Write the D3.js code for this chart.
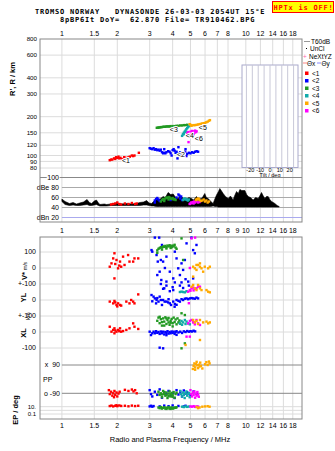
<!DOCTYPE html>
<html>
<head>
<meta charset="utf-8">
<style>
body { margin: 0; background: #fff; }
svg { display: block; font-family: "Liberation Sans", Arial, sans-serif; }
.mono { font-family: "DejaVu Sans Mono", monospace; font-weight: bold; letter-spacing: 0.79px; }
</style>
</head>
<body>
<svg id="chart" width="335" height="451"></svg>
<script src="https://d3js.org/d3.v7.min.js"></script>
<script>
// echo classes
var classNames = ["<1", "<2", "<3", "<4", "<5", "<6"];
var classColors = ["#ff0000", "#0000ff", "#229922", "#11aaaa", "#ffaa00", "#ff00ff"];

// axis ticks
var freqTicks = [1, 1.5, 2, 3, 4, 5, 6, 7, 8, 10, 12, 14, 16, 18];
var freqTicksMid = [1, 1.5, 2, 3, 4, 5, 6, 7, 8, 9, 10, 12, 14, 16, 18];
var rangeTicks = [800, 600, 400, 300, 200, 150, 120, 100, 90, 80];
var dbTicks = [100, 80, 60, 40, 20];
var dbLabels = ["100", "dBe 80", "60", "40", "dBn 20"];
var tiltTicks = [-20, -10, 0, 10, 20];
var tiltGrid = [-24, -18, -12, -6, 0, 6, 12, 18, 24];
var velTicks = [100, 0, -100], velLabels = ["100", "0", "+-100"];
var ylTicks = [0, -100], ylLabels = ["0", "+-100"];
var xlTicks = [0, -100], xlLabels = ["0", "-100"];
var ppTicks = [90, -90], ppLabels = ["x  90", "o -90"];
var epTicks = [10, 0.1], epLabels = ["10.", "0.1"];

// noise / echo amplitude trace (dB)
var noiseFreq = [1.0,1.04,1.1,1.15,1.2,1.25,1.31,1.37,1.41,1.45,
  1.5,1.54,1.58,1.61,1.7,1.75,1.85,1.98,2.1,2.25,
  2.4,2.55,2.65,2.78,2.89,2.98,3.07,3.15,3.27,3.4,
  3.55,3.65,3.78,3.9,4.03,4.15,4.29,4.38,4.47,4.6,
  4.76,4.9,5.07,5.2,5.39,5.55,5.74,5.85,5.98,6.1,
  6.24,6.45,6.64,6.8,6.93,7.1,7.22,7.35,7.53,7.75,
  8.02,8.25,8.53,8.7,8.9,9.1,9.28,9.5,9.88,10.1,
  10.3,10.6,10.96,11.3,11.67,11.9,12.17,12.4,12.69,12.95,
  13.22,13.5,13.8,14.1,14.38,14.8,15.17];
var noiseHi = [57,52,48,50,47,49,51,56,50,48,
  53,55,49,46,47,46,47,49,47,48,
  47,48,50,51,54,49,48,52,58,56,
  62,60,70,66,67,60,58,63,62,57,
  56,60,58,55,62,57,58,62,68,60,
  58,52,48,58,65,72,78,74,68,62,
  58,63,55,64,72,68,76,74,74,66,
  62,60,55,60,58,63,70,64,58,62,
  62,56,52,50,48,44,42];
var noiseLo = [52,46,44,45,44,44,45,46,44,44,
  45,46,44,43,43,43,44,44,44,44,
  44,44,44,45,45,44,43,43,42,42,
  42,42,42,42,42,42,42,42,42,42,
  42,42,42,42,42,42,42,42,42,42,
  42,42,43,42,42,41,41,41,41,41,
  41,41,41,41,41,41,41,41,41,41,
  41,41,41,41,41,41,41,41,41,41,
  41,41,41,41,41,41,41];

// [class, MHz, virtual range km]
var rangePts = [
  [0,1.82,92],[0,1.85,93],[0,1.88,93],[0,1.92,95],[0,1.95,94],[0,1.97,97],[0,2.0,96],[0,2.03,98],[0,2.05,95],
  [0,2.08,96],[0,2.12,94],[0,2.18,97],[0,2.22,96],[0,2.3,97],[0,2.34,98],[0,2.4,100],[0,2.44,99],[0,2.48,100],[0,2.62,105],
  [1,3.0,114],[1,3.05,113],[1,3.1,112],[1,3.15,114],[1,3.2,111],[1,3.25,112],[1,3.3,110],[1,3.35,111],[1,3.4,109],
  [1,3.45,111],[1,3.5,106],[1,3.55,104],[1,3.6,105],[1,3.65,104],[1,3.7,106],[1,3.78,108],[1,3.85,107],[1,3.9,104],
  [1,3.95,100],[1,4.0,110],[1,4.05,112],[1,4.1,109],[1,4.15,105],[1,4.2,107],[1,4.25,103],[1,4.3,116],[1,4.35,103],
  [1,4.4,106],[1,4.45,101],[1,4.5,104],[1,4.55,102],[1,4.6,103],[1,4.68,107],[1,4.75,99],[1,4.8,103],[1,4.9,105],
  [1,5.0,104],[1,5.1,106],[1,5.2,105],[1,5.3,107],[1,5.4,108],[1,5.5,107],[1,4.25,95],[1,3.6,112],[1,4.7,112],
  [2,3.28,164],[2,3.32,164],[2,3.36,165],[2,3.4,165],[2,3.45,166],[2,3.5,166],[2,3.55,167],[2,3.6,167],[2,3.65,167],
  [2,3.7,168],[2,3.75,168],[2,3.8,168],[2,3.85,168],[2,3.9,169],[2,4.0,169],[2,4.1,169],[2,4.2,170],[2,4.3,170],
  [2,4.4,171],[2,4.5,171],[2,4.6,172],[2,4.7,172],[2,4.8,173],
  [3,4.5,142],[3,4.55,146],[3,4.6,150],[3,4.65,153],[3,4.7,156],[3,4.75,160],[3,4.8,163],[3,4.85,166],[3,4.9,169],
  [3,4.95,172],[3,4.6,146],[3,4.7,152],
  [4,5.05,170],[4,5.1,171],[4,5.2,172],[4,5.3,172],[4,5.4,173],[4,5.5,174],[4,5.6,175],[4,5.7,176],[4,5.8,177],
  [4,5.9,178],[4,6.0,179],[4,6.1,181],[4,6.2,183],[4,6.3,186],[4,6.38,188],[4,5.0,173],[4,4.95,175],
  [5,4.8,148],[5,4.85,152],[5,4.9,150],[5,4.95,146],[5,5.0,153],[5,5.05,149],[5,5.1,155],[5,5.15,151],[5,5.2,154],
  [5,5.25,150],[5,5.3,156],[5,5.35,152],[5,5.4,154],[5,4.88,127],[5,5.0,144],[5,5.2,145]
];

// class label anchors (MHz, km)
var labelF = [2.12, 4.22, 3.86, 4.72, 5.55, 5.28];
var labelR = [90.6, 101, 159, 144, 165, 135];

// [class, MHz, dB]
var ampPts = [
  [0,1.85,46],[0,1.9,47],[0,1.95,48],[0,2.0,50],[0,2.05,47],[0,2.1,46],[0,2.2,48],[0,2.3,47],[0,2.4,49],[0,2.5,47],[0,2.55,48],
  [1,3.2,54],[1,3.25,57],[1,3.3,59],[1,3.35,56],[1,3.4,53],[1,4.3,66],[1,4.35,64],[1,4.4,58],[1,4.45,62],[1,4.5,55],[1,3.9,55],[1,4.2,60],[1,3.2,50],
  [2,3.45,52],[2,3.5,55],[2,3.55,57],[2,3.6,56],[2,3.65,58],[2,3.7,60],[2,3.75,59],[2,3.8,61],[2,3.85,60],[2,3.9,58],
  [2,3.95,57],[2,4.0,59],[2,4.05,56],[2,4.1,57],[2,4.15,55],[2,3.6,53],[2,3.8,56],
  [3,4.55,55],[3,4.6,57],[3,4.65,58],[3,4.7,56],[3,4.75,57],[3,4.8,55],[3,4.85,54],[3,4.9,56],
  [5,4.95,47],[5,5.0,48],[5,5.05,50],[5,5.1,49],[5,5.15,51],[5,5.2,48],[5,5.3,50],[5,5.4,52],[5,5.5,50],[5,5.6,51],[5,5.25,52],
  [4,5.35,55],[4,5.4,57],[4,5.45,56],[4,5.5,58],[4,5.55,57],[4,5.6,55],[4,5.7,53],[4,5.8,54],[4,6.0,52],[4,6.1,54],
  [4,6.2,50],[4,6.3,52],[4,5.9,56]
];

// [class, MHz, V* m/s]
var velPts = [
  [0,1.82,8],[0,1.86,29],[0,1.9,60],[0,1.93,92],[0,1.93,-65],[0,1.98,50],[0,2.02,-2],[0,2.07,40],[0,2.1,8],[0,2.15,71],
  [0,2.19,19],[0,2.29,81],[0,2.33,40],[0,2.44,40],[0,2.48,60],[0,2.6,60],[0,1.95,25],[0,2.05,15],
  [1,3.07,112],[1,3.1,102],[1,3.27,81],[1,3.32,40],[1,3.45,50],[1,3.5,144],[1,3.2,190],[1,3.38,190],[1,3.7,-85],
  [1,3.55,40],[1,3.7,71],[1,3.94,133],[1,4.11,102],[1,4.29,-2],[1,4.47,29],[1,4.66,50],[1,4.76,154],[1,5.06,190],
  [1,5.17,112],[1,5.28,92],[1,5.39,144],[1,4.38,-44],[1,4.03,-65],[1,4.86,-85],[1,3.86,-23],[1,3.63,0],[1,3.47,-75],
  [1,4.56,-12],[1,5.17,-65],[1,4.2,60],[1,3.6,-127],[1,3.4,-23],[1,3.3,-44],[1,4.9,-110],[1,4.0,-120],
  [2,3.3,110],[2,3.35,120],[2,3.4,125],[2,3.45,130],[2,3.5,128],[2,3.55,135],[2,3.6,132],[2,3.65,138],[2,3.7,130],
  [2,3.75,140],[2,3.8,135],[2,3.85,142],[2,3.9,138],[2,3.95,130],[2,4.0,140],[2,4.05,135],[2,4.1,145],[2,4.15,128],
  [2,4.2,120],[2,3.5,115],[2,3.7,122],[2,3.9,125],[2,4.47,185],[2,4.56,50],[2,3.3,95],
  [5,5.07,185],[5,5.3,190],[5,4.96,0],
  [4,5.17,8],[4,5.28,-2],[4,5.39,-12],[4,5.5,19],[4,5.63,8],[4,5.74,-2],[4,5.86,-23],[4,5.17,-54],[4,6.24,-2],
  [4,6.37,8],[4,5.63,29],[4,5.39,19],[4,5.98,8]
];

// [class, MHz, YL km]
var ylPts = [
  [0,1.82,-10],[0,1.9,-21],[0,1.93,-6],[0,1.98,-31],[0,2.02,-21],[0,2.07,-31],[0,2.1,-35],[0,2.24,-10],[0,2.33,-21],
  [0,2.38,0],[0,2.44,-10],[0,2.48,-21],[0,2.6,35],[0,1.95,-15],[0,2.0,-40],
  [1,3.07,31],[1,3.15,21],[1,3.2,10],[1,3.27,0],[1,3.35,-10],[1,3.45,0],[1,3.1,-8],[1,3.25,-21],[1,3.5,-31],[1,3.4,21],
  [1,3.55,0],[1,3.62,-10],[1,3.7,-10],[1,3.78,-15],[1,3.86,-21],[1,3.92,-31],[1,4.03,-10],[1,4.11,-25],[1,4.2,0],
  [1,4.3,-5],[1,4.38,-10],[1,4.47,5],[1,4.56,0],[1,4.66,8],[1,4.76,10],[1,4.86,5],[1,4.96,10],[1,5.07,12],[1,5.17,10],
  [1,5.28,8],[1,5.39,15],[1,5.5,10],[1,4.1,-42],[1,3.3,12],[1,3.8,5],[1,4.2,-30],
  [1,3.55,70],[1,3.7,90],[1,3.86,55],[1,4.03,62],[1,4.11,110],[1,4.38,90],[1,4.47,110],[1,4.56,75],[1,3.45,100],[1,4.7,130],
  [3,4.38,50],[3,4.47,52],[3,4.56,50],[3,4.66,48],[3,4.76,55],
  [5,4.86,52],[5,4.96,62],[5,5.07,73],[5,5.17,78],[5,5.28,70],[5,5.39,73],[5,5.5,83],[5,5.63,83],[5,4.9,-20],[5,5.0,58],[5,5.2,60],
  [4,5.07,83],[4,5.17,94],[4,5.28,73],[4,5.39,62],[4,5.5,94],[4,5.63,73],[4,5.74,62],[4,6.11,62],[4,6.24,52],[4,6.37,48]
];

// [class, MHz, XL km]
var xlPts = [
  [0,1.82,33],[0,1.86,2],[0,1.9,13],[0,1.93,23],[0,1.93,-8],[0,1.98,2],[0,2.02,13],[0,2.07,23],[0,2.1,2],[0,2.15,6],
  [0,2.24,13],[0,2.33,23],[0,2.44,54],[0,2.48,33],[0,2.6,19],[0,1.95,10],[0,2.05,5],
  [1,3.0,2],[1,3.05,-19],[1,3.1,-8],[1,3.15,2],[1,3.2,-8],[1,3.25,5],[1,3.3,-5],[1,3.35,0],[1,3.4,-12],[1,3.45,3],
  [1,3.5,-8],[1,3.55,2],[1,3.6,-15],[1,3.65,0],[1,3.7,-5],[1,3.75,5],[1,3.8,-10],[1,3.85,0],[1,3.9,-8],[1,3.95,3],
  [1,4.0,-5],[1,4.05,2],[1,4.1,-12],[1,4.15,0],[1,4.2,5],[1,4.3,-3],[1,4.4,2],[1,4.5,-6],[1,4.6,4],[1,4.7,0],
  [1,4.8,6],[1,4.9,2],[1,5.0,5],[1,5.1,3],[1,5.2,8],[1,5.3,4],[1,3.55,-102],[1,3.4,-98],[1,3.7,-20],[1,4.2,-18],
  [2,3.3,70],[2,3.35,90],[2,3.4,55],[2,3.45,80],[2,3.5,40],[2,3.55,85],[2,3.6,65],[2,3.65,92],[2,3.7,50],[2,3.75,75],
  [2,3.8,88],[2,3.85,45],[2,3.9,70],[2,3.95,82],[2,4.0,55],[2,4.05,90],[2,4.1,62],[2,4.15,78],[2,4.2,48],[2,4.25,85],
  [2,4.3,60],[2,4.35,72],[2,4.4,52],[2,3.4,95],[2,3.6,40],[2,3.8,60],[2,4.0,35],[2,3.5,62],[2,3.7,85],[2,3.9,58],
  [2,4.66,106],[2,4.66,-71],[2,4.47,-102],[2,4.47,117],
  [3,4.38,54],[3,4.47,69],[3,4.56,60],[3,4.66,75],[3,4.76,65],[3,4.86,54],[3,4.96,48],[3,4.5,45],[3,4.7,50],
  [5,4.86,54],[5,4.96,69],[5,5.07,75],[5,5.17,60],[5,5.28,48],[5,5.39,75],[5,5.5,54],[5,5.63,44],[5,4.76,-29],[5,4.96,-29],[5,5.2,62],
  [4,5.17,75],[4,5.28,60],[4,5.39,69],[4,5.63,75],[4,5.86,60],[4,6.11,65],[4,6.24,54],[4,6.37,60],[4,5.63,-50],[4,4.7,-81],[4,5.5,50]
];

// [class, MHz, polarisation deg]
var ppPts = [
  [0,1.8,-70],[0,1.82,-95],[0,1.85,-80],[0,1.88,-105],[0,1.9,-90],[0,1.93,-75],[0,1.95,-100],[0,1.98,-85],[0,2.0,-110],
  [0,2.03,-92],[0,2.06,-80],[0,2.2,-68],[0,2.3,-75],[0,2.4,-66],[0,2.45,-78],[0,2.5,-70],[0,2.55,-90],[0,1.92,-115],
  [1,3.0,-70],[1,3.05,-95],[1,3.1,-110],[1,3.2,-80],[1,3.3,-100],[1,3.4,-65],[1,3.5,-118],[1,3.6,-85],[1,3.7,-95],
  [1,3.8,-75],[1,3.9,-105],[1,4.0,-88],[1,4.1,-120],[1,4.2,-70],[1,4.3,-98],[1,4.4,-80],[1,4.5,-110],[1,4.6,-72],
  [1,4.7,-92],[1,4.8,-84],[1,5.0,-100],[1,5.2,-78],[1,5.4,-95],
  [2,3.35,-80],[2,3.4,-100],[2,3.45,-90],[2,3.5,-115],[2,3.55,-75],[2,3.6,-95],[2,3.65,-105],[2,3.7,-85],[2,3.75,-120],
  [2,3.8,-92],[2,3.85,-78],[2,3.9,-110],[2,3.95,-88],[2,4.0,-100],[2,4.05,-82],[2,4.1,-118],[2,4.15,-95],[2,4.2,-86],
  [2,3.5,-98],[2,3.7,-102],[2,3.9,-96],[2,3.6,-82],[2,4.0,-112],[2,3.8,-108],
  [3,4.4,-75],[3,4.45,-95],[3,4.5,-110],[3,4.55,-85],[3,4.6,-100],[3,4.65,-120],[3,4.7,-90],[3,4.75,-78],[3,4.8,-105],
  [3,4.85,-95],[3,4.9,-88],[3,4.95,-115],
  [5,5.0,-70],[5,5.05,-95],[5,5.1,-110],[5,5.15,-85],[5,5.2,-100],[5,5.25,-78],[5,5.3,-118],[5,5.35,-92],[5,5.4,-105],
  [5,5.45,-82],[5,5.5,-98],[5,5.55,-112],
  [4,5.15,65],[4,5.2,85],[4,5.25,100],[4,5.3,75],[4,5.35,95],[4,5.4,110],[4,5.45,88],[4,5.5,70],[4,5.55,92],[4,5.6,80],
  [4,5.65,105],[4,5.7,85],[4,5.8,68],[4,6.0,95],[4,6.1,108],[4,6.2,90],[4,6.35,100],[4,6.3,112],[4,5.3,60]
];

// [class, MHz, EP deg]
var epPts = [
  [0,1.82,15],[0,1.86,20],[0,1.9,12],[0,1.95,18],[0,2.0,14],[0,2.05,22],[0,2.1,16],[0,2.2,18],[0,2.3,13],[0,2.4,20],
  [0,2.5,15],[0,2.6,18],[0,1.98,25],
  [1,3.0,12],[1,3.05,18],[1,3.1,10],[1,3.15,15],[1,3.4,12],[1,3.6,20],[1,3.8,14],[1,4.0,22],[1,4.3,16],[1,4.6,12],[1,4.7,18],
  [2,3.35,6],[2,3.4,4],[2,3.45,8],[2,3.5,3],[2,3.55,5],[2,3.6,7],[2,3.65,3],[2,3.7,5],[2,3.75,4],[2,3.8,8],[2,3.85,3],
  [2,3.9,5],[2,3.95,6],[2,4.0,3],[2,4.05,4],[2,4.1,6],[2,4.15,5],[2,4.2,7],[2,3.7,2.5],[2,3.9,2.5],
  [3,4.5,10],[3,4.6,8],[3,4.7,12],[3,4.8,9],[3,4.9,11],
  [5,5.0,12],[5,5.1,10],[5,5.2,14],[5,5.3,9],[5,5.4,12],[5,5.5,11],
  [4,5.4,8],[4,5.6,6],[4,5.8,10],[4,6.0,12],[4,6.2,14],[4,6.35,10],[4,5.5,4]
];

var svg = d3.select("#chart");

// scales
var x = d3.scaleLog().domain([0.76, 20.2]).range([40, 302]);
var yR = d3.scaleLog().domain([800, 70]).range([39, 175.5]);
var yDb = d3.scaleLinear().domain([20, 100]).range([217.5, 177.5]);
var yV = d3.scaleLinear().domain([-100, 100]).range([284, 252]);
var yYL = d3.scaleLinear().domain([-100, 100]).range([316, 284]);
var yXL = d3.scaleLinear().domain([-100, 100]).range([348, 316]);
var yPP = d3.scaleLinear().domain([-90, 90]).range([393.3, 365]);
var yEP = d3.scaleLog().domain([0.1, 10]).range([414, 406.7]);
var xTilt = d3.scaleLinear().domain([-28.5, 28.5]).range([242, 298]);

var grid = "#dcdcdc", frame = "#888";

// header
svg.append("text").attr("class", "mono").attr("x", 35).attr("y", 13.5)
  .attr("font-size", 7).attr("xml:space", "preserve")
  .text("TROMSO NORWAY   DYNASONDE 26-03-03 2054UT 15°E");
svg.append("text").attr("class", "mono").attr("x", 60).attr("y", 22)
  .attr("font-size", 7).attr("xml:space", "preserve")
  .text("8pBP6It DoY=  62.870 File= TR910462.BPG");
svg.append("rect").attr("x", 272.5).attr("y", 1.5).attr("width", 61).attr("height", 11)
  .attr("fill", "#ffff00").attr("stroke", "#ff0000");
svg.append("text").attr("class", "mono").attr("x", 273.5).attr("y", 10)
  .attr("font-size", 7).attr("fill", "#ff0000").text("HPTx is OFF!");

// vertical frequency grid, both panels
[[39, 222], [237, 419]].forEach(function(p) {
  svg.append("g").selectAll("line").data(freqTicks).enter().append("line")
    .attr("x1", function(d) { return x(d); }).attr("x2", function(d) { return x(d); })
    .attr("y1", p[0]).attr("y2", p[1]).attr("stroke", grid);
});

// range grid + labels
svg.append("g").selectAll("line").data(rangeTicks.slice(1)).enter().append("line")
  .attr("x1", 40).attr("x2", 302)
  .attr("y1", function(d) { return yR(d); }).attr("y2", function(d) { return yR(d); })
  .attr("stroke", grid);
svg.append("g").selectAll("text").data(rangeTicks).enter().append("text")
  .attr("x", 37).attr("y", function(d) { return yR(d); }).attr("dy", "0.35em")
  .attr("text-anchor", "end").attr("font-size", 6.2).text(function(d) { return d; });
svg.append("text").attr("transform", "translate(15,79) rotate(-90)")
  .attr("text-anchor", "middle").attr("font-size", 7.5).attr("font-weight", "bold").text("R', R / km");

// tilt inset
svg.append("rect").attr("x", xTilt(-28.5)).attr("y", 65).attr("width", xTilt(28.5) - xTilt(-28.5))
  .attr("height", 102.5).attr("fill", "#fff").attr("stroke", "#aaaacc");
svg.append("g").selectAll("line").data(tiltGrid).enter().append("line")
  .attr("x1", function(d) { return xTilt(d); }).attr("x2", function(d) { return xTilt(d); })
  .attr("y1", 65).attr("y2", 167.5).attr("stroke", "#c8c8d8");
svg.append("g").selectAll("text").data(tiltTicks).enter().append("text")
  .attr("x", function(d) { return xTilt(d); }).attr("y", 171.5).attr("text-anchor", "middle")
  .attr("font-size", 5.5).text(function(d) { return d; });
svg.append("text").attr("x", xTilt(0)).attr("y", 177).attr("text-anchor", "middle")
  .attr("font-size", 5.5).text("Tilt / deg");

// dB panel lines
svg.append("g").selectAll("line").data(dbTicks).enter().append("line")
  .attr("x1", function(d) { return d === 100 ? 40 : x(1); }).attr("x2", 302)
  .attr("y1", function(d) { return yDb(d); }).attr("y2", function(d) { return yDb(d); })
  .attr("stroke", function(d) { return d === 100 ? frame : d === 20 ? "#aaaaee" : "#aaa"; });
svg.append("g").selectAll("text").data(dbTicks).enter().append("text")
  .attr("x", 59).attr("y", function(d) { return yDb(d); }).attr("dy", "0.35em")
  .attr("text-anchor", "end").attr("font-size", 7)
  .attr("stroke", "#fff").attr("stroke-width", 2).attr("paint-order", "stroke")
  .text(function(d, i) { return dbLabels[i]; });

// noise trace
var noise = noiseFreq.map(function(f, i) { return [f, noiseLo[i], noiseHi[i]]; });
svg.append("path").datum(noise)
  .attr("d", d3.area().x(function(d) { return x(d[0]); })
    .y0(function(d) { return yDb(d[1]); }).y1(function(d) { return yDb(d[2]); }))
  .attr("fill", "#000").attr("stroke", "#000").attr("stroke-width", 0.6);

// bottom panel grid
var bottomLines = [yV(100), yV(0), yV(-100), yYL(0), yYL(-100), yXL(0), yXL(-100),
  yEP(10), yEP(1), yEP(0.1)];
svg.append("g").selectAll("line").data(bottomLines).enter().append("line")
  .attr("x1", 40).attr("x2", 302).attr("y1", function(d) { return d; }).attr("y2", function(d) { return d; })
  .attr("stroke", grid);
svg.append("g").selectAll("line").data(ppTicks).enter().append("line")
  .attr("x1", x(1)).attr("x2", 302)
  .attr("y1", function(d) { return yPP(d); }).attr("y2", function(d) { return yPP(d); })
  .attr("stroke", frame);

// bottom panel tick labels
function sideLabels(ticks, labels, scale, xpos, size) {
  svg.append("g").selectAll("text").data(ticks).enter().append("text")
    .attr("x", xpos).attr("y", function(d) { return scale(d); }).attr("dy", "0.35em")
    .attr("text-anchor", "end").attr("font-size", size).attr("xml:space", "preserve")
    .text(function(d, i) { return labels[i]; });
}
sideLabels(velTicks, velLabels, yV, 36, 7);
sideLabels(ylTicks, ylLabels, yYL, 36, 7);
sideLabels(xlTicks, xlLabels, yXL, 36, 7);
sideLabels(ppTicks, ppLabels, yPP, 60, 7);
sideLabels(epTicks, epLabels, yEP, 36, 6);
svg.append("text").attr("x", 43).attr("y", 382).attr("font-size", 7).text("PP");

// side titles
svg.append("text").attr("transform", "translate(27,271) rotate(-90)").attr("text-anchor", "middle")
  .attr("font-size", 7.5).attr("font-weight", "bold")
  .html('V* <tspan font-size="5" font-weight="normal">m/s</tspan>');
svg.append("text").attr("transform", "translate(26,297.5) rotate(-90)").attr("text-anchor", "middle")
  .attr("font-size", 7.5).attr("font-weight", "bold").text("YL");
svg.append("text").attr("transform", "translate(30,316) rotate(-90)").attr("text-anchor", "middle")
  .attr("font-size", 5.5).text("km");
svg.append("text").attr("transform", "translate(26,333) rotate(-90)").attr("text-anchor", "middle")
  .attr("font-size", 7.5).attr("font-weight", "bold").text("XL");
svg.append("text").attr("transform", "translate(18,410) rotate(-90)").attr("text-anchor", "middle")
  .attr("font-size", 7.5).attr("font-weight", "bold").text("EP / deg");

// frames
svg.append("rect").attr("x", 40).attr("y", 39).attr("width", 262).attr("height", 183)
  .attr("fill", "none").attr("stroke", frame);
svg.append("rect").attr("x", 40).attr("y", 237).attr("width", 262).attr("height", 182)
  .attr("fill", "none").attr("stroke", frame);

// frequency labels
function freqLabels(ticks, ypos) {
  svg.append("g").selectAll("text").data(ticks).enter().append("text")
    .attr("x", function(d) { return x(d); }).attr("y", ypos).attr("text-anchor", "middle")
    .attr("font-size", 7).text(function(d) { return d; });
}
freqLabels(freqTicks, 36);
freqLabels(freqTicksMid, 232.5);
freqLabels(freqTicks, 427.5);
svg.append("text").attr("x", 170).attr("y", 441.5).attr("text-anchor", "middle")
  .attr("font-size", 7.5).text("Radio and Plasma Frequency / MHz");

// echo points
function drawPts(pts, yScale) {
  svg.append("g").selectAll("rect").data(pts).enter().append("rect")
    .attr("x", function(d) { return x(d[1]) - 1.2; })
    .attr("y", function(d) { return yScale(d[2]) - 1.2; })
    .attr("width", 2.4).attr("height", 2.4)
    .attr("fill", function(d) { return classColors[d[0]]; });
}
drawPts(rangePts, yR);
drawPts(ampPts, yDb);
drawPts(velPts, yV);
drawPts(ylPts, yYL);
drawPts(xlPts, yXL);
drawPts(ppPts, yPP);
drawPts(epPts, yEP);

// class labels on the range trace
svg.append("g").selectAll("text").data(labelF).enter().append("text")
  .attr("x", function(d) { return x(d); })
  .attr("y", function(d, i) { return yR(labelR[i]); }).attr("dy", "0.35em")
  .attr("font-size", 7).attr("stroke", "#fff").attr("stroke-width", 2)
  .attr("paint-order", "stroke").attr("fill", "#000")
  .text(function(d, i) { return classNames[i]; });

// legend
var lg = svg.append("g").attr("font-size", 6.5);
lg.append("line").attr("x1", 304).attr("x2", 310).attr("y1", 41.5).attr("y2", 41.5).attr("stroke", "#999");
lg.append("text").attr("x", 311).attr("y", 44).text("T60dB");
lg.append("rect").attr("x", 306).attr("y", 48).attr("width", 1).attr("height", 1).attr("fill", "#000");
lg.append("text").attr("x", 310).attr("y", 51).text("UnCl");
lg.append("text").attr("x", 303).attr("y", 58.5).attr("fill", "#ff66aa").text("+");
lg.append("text").attr("x", 309).attr("y", 58.5).text("NeXtYZ");
lg.append("line").attr("x1", 303).attr("x2", 307).attr("y1", 63).attr("y2", 63).attr("stroke", "#ff8888");
lg.append("text").attr("x", 307).attr("y", 65.5).text("\u0398x");
lg.append("line").attr("x1", 317).attr("x2", 321).attr("y1", 63).attr("y2", 63).attr("stroke", "#8888ff");
lg.append("text").attr("x", 321.5).attr("y", 65.5).text("\u0398y");
lg.selectAll("rect.cls").data(classNames).enter().append("rect").attr("class", "cls")
  .attr("x", 305).attr("y", function(d, i) { return 71.5 + i * 7.5; })
  .attr("width", 3.5).attr("height", 3.5)
  .attr("fill", function(d, i) { return classColors[i]; });
lg.selectAll("text.cls").data(classNames).enter().append("text").attr("class", "cls")
  .attr("x", 312).attr("y", function(d, i) { return 73.3 + i * 7.5; }).attr("dy", "0.35em")
  .text(function(d) { return d; });
</script>
</body>
</html>
